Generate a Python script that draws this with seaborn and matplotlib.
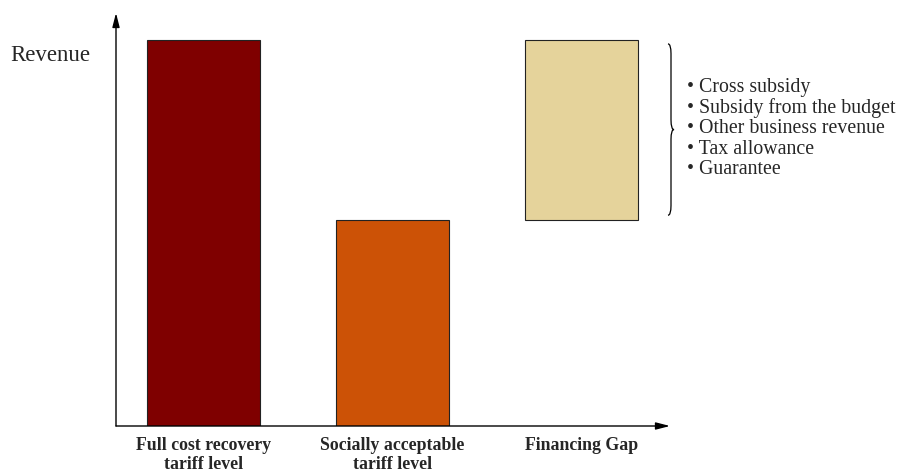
import matplotlib
matplotlib.use("Agg")
import matplotlib.pyplot as plt
import seaborn as sns
import pandas as pd
from matplotlib.path import Path
from matplotlib.patches import PathPatch
import matplotlib.transforms as mtransforms

# Revenue levels (arbitrary units)
categories = ["Full cost recovery\ntariff level",
              "Socially acceptable\ntariff level",
              "Financing Gap"]
full_cost = 100.0
social = 53.4
bar_bottoms = [0.0, 0.0, social]
bar_heights = [full_cost, social, full_cost - social]
bar_colors = ["#7f0000", "#cc5206", "#e5d39b"]
gap_sources = ["Cross subsidy", "Subsidy from the budget",
               "Other business revenue", "Tax allowance", "Guarantee"]

sns.set_theme(style="white")
plt.rcParams["font.family"] = ["Liberation Serif", "DejaVu Serif"]

W, H = 903, 472
fig = plt.figure(figsize=(W / 100, H / 100), dpi=100)
ax_l, ax_r, ax_b, ax_t = 116, 670, 426, 13
ax = fig.add_axes([ax_l / W, 1 - ax_b / H, (ax_r - ax_l) / W, (ax_b - ax_t) / H])

df = pd.DataFrame({"category": categories, "height": bar_heights})
sns.barplot(data=df, x="category", y="height", hue="category",
            palette=bar_colors, saturation=1, legend=False, width=0.6,
            edgecolor="#222222", linewidth=0.8, ax=ax)

# Financing gap floats on top of the socially acceptable level
for patch, base in zip(ax.patches, bar_bottoms):
    patch.set_y(base)

ax.set_xlim(-0.463, 2.468)
ax.set_ylim(0, 107)
for s in ax.spines.values():
    s.set_visible(False)
ax.set_yticks([])
ax.set_xlabel("")
ax.tick_params(axis="x", length=0, pad=8)
for lbl in ax.get_xticklabels():
    lbl.set_fontweight("bold")
    lbl.set_fontsize(12.8)
    lbl.set_linespacing(1.15)

# Axis arrows
arrow_kw = dict(arrowstyle="-|>,head_length=0.7,head_width=0.18",
                color="black", lw=1.0, shrinkA=0, shrinkB=0)
ax.annotate("", xy=(0, 1), xytext=(0, 0), xycoords="axes fraction",
            textcoords="axes fraction", arrowprops=arrow_kw)
ax.annotate("", xy=(1, 0), xytext=(0, 0), xycoords="axes fraction",
            textcoords="axes fraction", arrowprops=arrow_kw)

ax.set_ylabel("Revenue", rotation=0, fontsize=16.5, ha="left", va="center")
ax.yaxis.set_label_coords(-0.191, 0.897)

# Curly brace beside the financing gap
trans = mtransforms.blended_transform_factory(ax.transAxes, ax.transData)
px = 1.0 / (ax_r - ax_l)
x0, w = 1.0 - 2 * px, 6 * px
y0, y1 = social + 1.2, full_cost - 1.0
ym = (y0 + y1) / 2
d = 2.5
xm = x0 + w / 2
verts = [(x0, y1), (xm, y1), (xm, y1 - d), (xm, ym + d), (xm, ym), (x0 + w, ym),
         (xm, ym), (xm, ym - d), (xm, y0 + d), (xm, y0), (x0, y0)]
codes = [Path.MOVETO, Path.CURVE3, Path.CURVE3, Path.LINETO, Path.CURVE3, Path.CURVE3,
         Path.CURVE3, Path.CURVE3, Path.LINETO, Path.CURVE3, Path.CURVE3]
ax.add_patch(PathPatch(Path(verts, codes), transform=trans, fill=False,
                       lw=0.9, edgecolor="black", clip_on=False))

ax.text((687 - ax_l) * px, ym + 0.3, "\n".join("\u2022 " + s for s in gap_sources),
        transform=trans, fontsize=14.3, ha="left", va="center",
        linespacing=1.1, clip_on=False)

fig.savefig("out.png", dpi=100)
